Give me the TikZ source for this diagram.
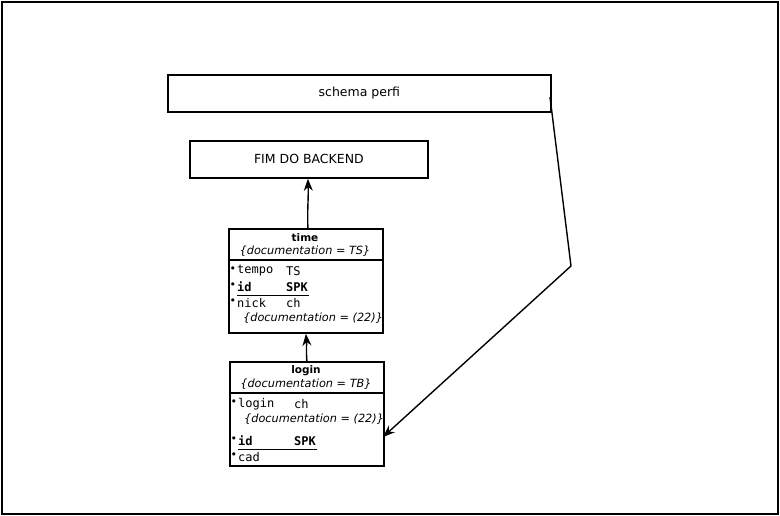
\documentclass[tikz,border=0pt]{standalone}
\usepackage{fontspec}
\setmainfont{DejaVu Sans}
\newfontfamily\monof{DejaVu Sans Mono}
\usetikzlibrary{arrows.meta}
\begin{document}
\begin{tikzpicture}[x=1pt,y=-1pt,
  box/.style={draw,line width=1.8pt,anchor=north west,inner sep=0pt},
  rule/.style={line width=1.8pt},
  lbl/.style={font=\fontsize{12.5}{14}\selectfont},
  ttl/.style={font=\bfseries\fontsize{10.5}{12}\selectfont,inner sep=0pt},
  doc/.style={font=\itshape\fontsize{11.3}{12}\selectfont,inner sep=0pt},
  row/.style={font=\monof\fontsize{12}{13}\selectfont,anchor=west,inner sep=0pt},
  keyrow/.style={font=\monof\bfseries\fontsize{12}{13}\selectfont,anchor=west,inner sep=0pt},
  dot/.style={font=\fontsize{11}{11}\selectfont,anchor=west,inner sep=0pt},
  conn/.style={line width=1.4pt,-{Stealth[length=12pt,width=9pt]}}]
\useasboundingbox (0,0) rectangle (780,516);
\draw[rule] (2,2) rectangle (778,514);

% plain boxes
\node[box,minimum width=383pt,minimum height=37pt] (schema) at (167,74) {};
\node[lbl] at (schema.center) {schema perfi};
\node[box,minimum width=238pt,minimum height=37pt] (fim) at (189,140) {};
\node[lbl] at (fim.center) {FIM DO BACKEND};

% table: time
\node[box,minimum width=154pt,minimum height=104pt] (time) at (228,228) {};
\draw[rule] (228,260) -- (382,260);
\node[ttl] (timeT) at (305,238) {time};
\node[doc] (timeD) at (305,251) {\{documentation = TS\}};
\node[dot] (tb1) at (229.5,270) {•};
\node[row] (t1) at (237,271) {tempo};
\node[row] (t1b) at (286,271) {TS};
\node[dot] (tb2) at (229.5,286) {•};
\node[keyrow] (t2) at (237,287) {id};
\node[keyrow] (t2b) at (286,287) {SPK};
\draw[line width=1pt] (237,295) -- (309,295);
\node[dot] (tb3) at (229.5,302) {•};
\node[row] (t3) at (237,303) {nick};
\node[row] (t3b) at (286,303) {ch};
\node[doc,anchor=west] (t4) at (243,318) {\{documentation = (22)\}};

% table: login
\node[box,minimum width=154pt,minimum height=104pt] (login) at (229,361) {};
\draw[rule] (229,393) -- (383,393);
\node[ttl] (loginT) at (306,371) {login};
\node[doc] (loginD) at (306,384) {\{documentation = TB\}};
\node[dot] (lb1) at (230.5,403) {•};
\node[row] (l1) at (238,404) {login};
\node[row] (l1b) at (294,404) {ch};
\node[doc,anchor=west] (l2) at (244,419) {\{documentation = (22)\}};
\node[dot] (lb3) at (230.5,440) {•};
\node[keyrow] (l3) at (238,441) {id};
\node[keyrow] (l3b) at (294,441) {SPK};
\draw[line width=1pt] (238,449) -- (317,449);
\node[dot] (lb4) at (230.5,456) {•};
\node[row] (l4) at (238,457) {cad};

% connectors
\draw[conn] (time.north) ++(2,0) coordinate (ta) to[out=92,in=-88] (fim.south -| ta);
\draw[conn] (login.north) to[out=95,in=-85] (time.south);
\coordinate (bend) at (571,266);
\coordinate (lend) at (383,437);
\draw[conn] (550,97) -- (bend) -- (lend);
\end{tikzpicture}
\end{document}
